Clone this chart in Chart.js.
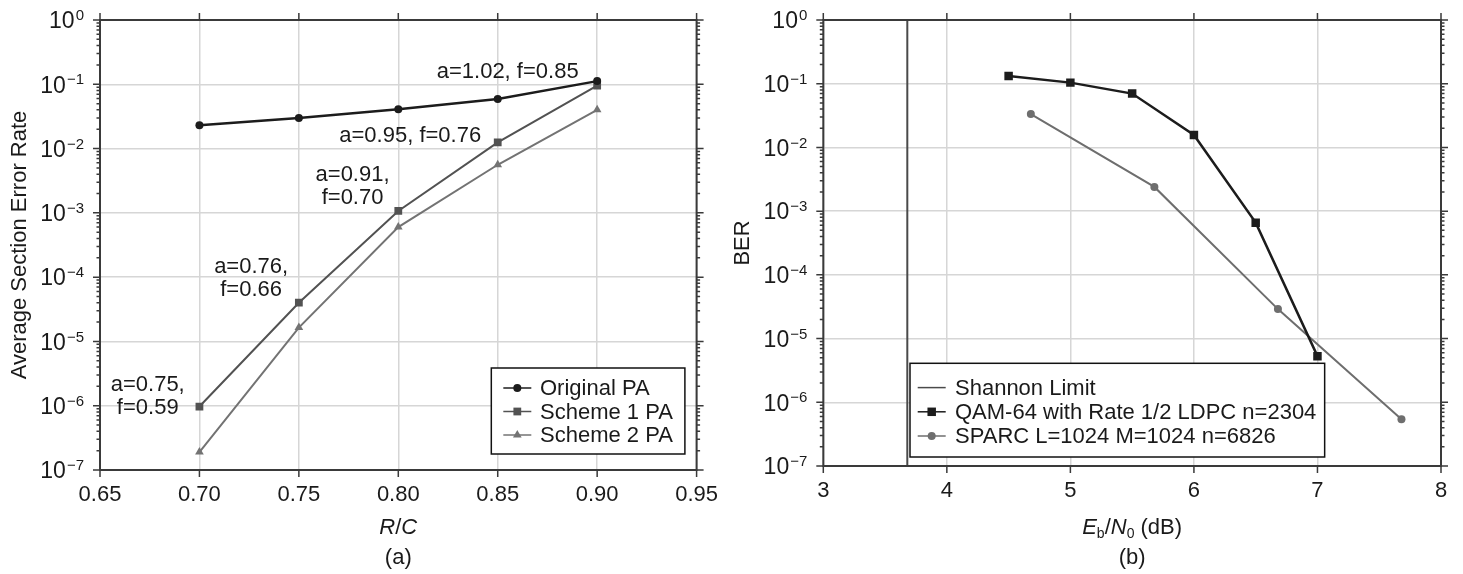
<!DOCTYPE html>
<html>
<head>
<meta charset="utf-8">
<script src="https://cdn.jsdelivr.net/npm/chart.js@4.4.0/dist/chart.umd.min.js"></script>
<style>
  body { margin: 0; background: #fff; }
  #wrap { position: relative; width: 1463px; height: 574px; }
  canvas { position: absolute; top: 0; }
</style>
</head>
<body>
<div id="wrap">
  <canvas id="chartA" width="730" height="574" style="left:0"></canvas>
  <canvas id="chartB" width="733" height="574" style="left:730px"></canvas>
</div>
<script>
// (a) average section error rate vs R/C
const rcValues = [0.70, 0.75, 0.80, 0.85, 0.90];
const originalPA = [0.023, 0.030, 0.041, 0.059, 0.112];
const scheme1PA = [9.7e-7, 4.0e-5, 1.07e-3, 0.0125, 0.095];
const scheme2PA = [1.9e-7, 1.64e-5, 6.0e-4, 0.0056, 0.040];
const rcTicks = [0.65, 0.70, 0.75, 0.80, 0.85, 0.90, 0.95];

// power allocation notes on (a), anchored in data coordinates
const noteLines = [['a=1.02, f=0.85'], ['a=0.95, f=0.76'], ['a=0.91,', 'f=0.70'], ['a=0.76,', 'f=0.66'], ['a=0.75,', 'f=0.59']];
const noteX = [0.855, 0.806, 0.777, 0.726, 0.674];
const noteY = [0.155, 0.0158, 2.57e-3, 9.4e-5, 1.4e-6];

// (b) BER vs Eb/N0
const qamEbN0 = [4.5, 5.0, 5.5, 6.0, 6.5, 7.0];
const qamBER = [0.132, 0.104, 0.070, 0.0157, 6.6e-4, 5.3e-6];
const sparcEbN0 = [4.68, 5.68, 6.68, 7.68];
const sparcBER = [0.0334, 2.4e-3, 2.9e-5, 5.4e-7];
const shannonLimit = 3.68;
const ebn0Ticks = [3, 4, 5, 6, 7, 8];

const decadeExps = [0, -1, -2, -3, -4, -5, -6, -7];

const FONT = '"Liberation Sans", Arial, Helvetica, sans-serif';
const INK = '#1a1a1a';
const GRID = '#d6d6d6';
const FRAME = '#3a3a3a';

const pts = (xs, ys) => xs.map((x, i) => ({ x, y: ys[i] }));

function drawMarker(ctx, style, x, y, r) {
    ctx.beginPath();
    if (style === 'rect') {
        const s = r * Math.SQRT1_2;
        ctx.rect(x - s, y - s, 2 * s, 2 * s);
    } else if (style === 'triangle') {
        ctx.moveTo(x, y - r);
        ctx.lineTo(x + r * 0.866, y + r / 2);
        ctx.lineTo(x - r * 0.866, y + r / 2);
        ctx.closePath();
    } else {
        ctx.arc(x, y, r, 0, Math.PI * 2);
    }
    ctx.fill();
}

// draws a row of text pieces (italic / subscript) centred on cx
function drawPieces(ctx, pieces, cx, cy) {
    const fontOf = p => `${p.it ? 'italic ' : ''}${p.sub ? 14 : 22}px ${FONT}`;
    let total = 0;
    pieces.forEach(p => { ctx.font = fontOf(p); p.w = ctx.measureText(p.t).width; total += p.w; });
    let x = cx - total / 2;
    ctx.textAlign = 'left';
    ctx.textBaseline = 'middle';
    pieces.forEach(p => {
        ctx.font = fontOf(p);
        ctx.fillText(p.t, x, cy + (p.sub ? 6 : 0));
        x += p.w;
    });
}

const decor = {
    id: 'decor',
    afterDraw(chart, args, o) {
        const { ctx, chartArea: a, scales: { x, y } } = chart;
        ctx.save();

        // tick marks, outside on all four sides
        ctx.strokeStyle = FRAME;
        ctx.lineWidth = 1.5;
        ctx.beginPath();
        x.ticks.forEach(t => {
            const px = x.getPixelForValue(t.value);
            ctx.moveTo(px, a.top); ctx.lineTo(px, a.top - 7);
            ctx.moveTo(px, a.bottom); ctx.lineTo(px, a.bottom + 7);
        });
        decadeExps.forEach(e => {
            const py = y.getPixelForValue(10 ** e);
            ctx.moveTo(a.left, py); ctx.lineTo(a.left - 7, py);
            ctx.moveTo(a.right, py); ctx.lineTo(a.right + 7, py);
            if (e === -7) return;
            for (let m = 2; m < 10; m++) {
                const pm = y.getPixelForValue(m * 10 ** (e - 1));
                ctx.moveTo(a.left, pm); ctx.lineTo(a.left - 3.5, pm);
                ctx.moveTo(a.right, pm); ctx.lineTo(a.right + 3.5, pm);
            }
        });
        ctx.stroke();

        // frame
        ctx.lineWidth = 2;
        ctx.strokeRect(a.left, a.top, a.right - a.left, a.bottom - a.top);

        // y tick labels 10^n
        ctx.fillStyle = INK;
        ctx.textBaseline = 'middle';
        ctx.textAlign = 'left';
        decadeExps.forEach(e => {
            const py = y.getPixelForValue(10 ** e);
            const sup = e === 0 ? '0' : '\u2212' + (-e);
            ctx.font = `23px ${FONT}`;
            const wb = ctx.measureText('10').width;
            ctx.font = `15px ${FONT}`;
            const ws = ctx.measureText(sup).width;
            const right = a.left - 16;
            ctx.font = `23px ${FONT}`;
            ctx.fillText('10', right - ws - wb - 1, py + 2);
            ctx.font = `15px ${FONT}`;
            ctx.fillText(sup, right - ws, py - 4);
        });

        // axis titles and caption
        const cx = (a.left + a.right) / 2;
        ctx.save();
        ctx.translate(a.left - 80, (a.top + a.bottom) / 2);
        ctx.rotate(-Math.PI / 2);
        ctx.textAlign = 'center';
        ctx.font = `22px ${FONT}`;
        ctx.fillText(o.yTitle, 0, 0);
        ctx.restore();
        drawPieces(ctx, o.xTitle, cx, 528);
        ctx.textAlign = 'center';
        ctx.font = `22px ${FONT}`;
        ctx.fillText(o.caption, cx, 558);

        // notes
        (o.notes || []).forEach(n => {
            const px = x.getPixelForValue(n.x);
            const py = y.getPixelForValue(n.y);
            const y0 = py - (n.lines.length - 1) * 23 / 2;
            n.lines.forEach((s, i) => ctx.fillText(s, px, y0 + i * 23));
        });

        // legend box
        const L = o.legend;
        const sets = chart.data.datasets;
        ctx.font = `22px ${FONT}`;
        const tw = Math.max(...sets.map(d => ctx.measureText(d.label).width));
        const w = L.textX + tw + L.padRight;
        const h = L.padTop + L.rowH * (sets.length - 1) + L.padBottom;
        const bx = L.alignRight ? a.right - L.dx - w : a.left + L.dx;
        const by = a.bottom - L.dy - h;
        ctx.fillStyle = '#fff';
        ctx.fillRect(bx, by, w, h);
        ctx.strokeStyle = '#111';
        ctx.lineWidth = 1.5;
        ctx.strokeRect(bx, by, w, h);
        sets.forEach((d, i) => {
            const ry = by + L.padTop + i * L.rowH;
            ctx.strokeStyle = d.borderColor;
            ctx.lineWidth = 1.5;
            ctx.beginPath();
            ctx.moveTo(bx + L.lineX0, ry); ctx.lineTo(bx + L.lineX1, ry);
            ctx.stroke();
            if (d.pointRadius > 0) {
                ctx.fillStyle = d.backgroundColor;
                drawMarker(ctx, d.pointStyle, bx + (L.lineX0 + L.lineX1) / 2, ry, d.pointRadius);
            }
            ctx.fillStyle = INK;
            ctx.textAlign = 'left';
            ctx.textBaseline = 'middle';
            ctx.fillText(d.label, bx + L.textX, ry + 1);
        });

        ctx.restore();
    }
};

function axisTicks(values, fmt) {
    return {
        padding: 12, color: INK, autoSkip: false, maxRotation: 0,
        font: { family: FONT, size: 22 },
        callback: v => fmt(v)
    };
}

function logAxis(width) {
    return {
        type: 'logarithmic', min: 1e-7, max: 1,
        afterBuildTicks: s => { s.ticks = decadeExps.map(e => ({ value: 10 ** e })); },
        afterFit: s => { s.width = width; },
        grid: { color: GRID, lineWidth: 1.5, drawTicks: false },
        border: { display: false },
        ticks: { callback: () => '' }
    };
}

new Chart(document.getElementById('chartA'), {
    type: 'line',
    data: {
        datasets: [
            { label: 'Original PA', data: pts(rcValues, originalPA), borderColor: '#1c1c1c', backgroundColor: '#1c1c1c',
              borderWidth: 2.5, pointStyle: 'circle', pointRadius: 4, pointBorderWidth: 0 },
            { label: 'Scheme 1 PA', data: pts(rcValues, scheme1PA), borderColor: '#525252', backgroundColor: '#525252',
              borderWidth: 2, pointStyle: 'rect', pointRadius: 5.5, pointBorderWidth: 0 },
            { label: 'Scheme 2 PA', data: pts(rcValues, scheme2PA), borderColor: '#737373', backgroundColor: '#737373',
              borderWidth: 2, pointStyle: 'triangle', pointRadius: 5, pointBorderWidth: 0 }
        ]
    },
    options: {
        responsive: false,
        animation: false,
        layout: { padding: { top: 20, right: 31, bottom: 0, left: 0 } },
        elements: { line: { tension: 0 } },
        plugins: {
            legend: { display: false },
            tooltip: { enabled: false },
            decor: {
                yTitle: 'Average Section Error Rate',
                xTitle: [{ t: 'R', it: true }, { t: '/' }, { t: 'C', it: true }],
                caption: '(a)',
                notes: noteLines.map((lines, i) => ({ lines, x: noteX[i], y: noteY[i] })),
                legend: { alignRight: true, dx: 11.7, dy: 16, padTop: 20, rowH: 23.5, padBottom: 19,
                          lineX0: 12, lineX1: 40, textX: 48.7, padRight: 12 }
            }
        },
        scales: {
            x: {
                type: 'linear', min: 0.65, max: 0.95,
                afterBuildTicks: s => { s.ticks = rcTicks.map(v => ({ value: v })); },
                afterFit: s => { s.height = 104; },
                grid: { color: GRID, lineWidth: 1.5, drawTicks: false },
                border: { display: false },
                ticks: axisTicks(rcTicks, v => v.toFixed(2))
            },
            y: logAxis(100)
        }
    },
    plugins: [decor]
});

new Chart(document.getElementById('chartB'), {
    type: 'line',
    data: {
        datasets: [
            { label: 'Shannon Limit', data: [{ x: shannonLimit, y: 1e-7 }, { x: shannonLimit, y: 1 }],
              borderColor: '#4a4a4a', backgroundColor: '#4a4a4a', borderWidth: 2, pointRadius: 0 },
            { label: 'QAM-64 with Rate 1/2 LDPC n=2304', data: pts(qamEbN0, qamBER), borderColor: '#1c1c1c', backgroundColor: '#1c1c1c',
              borderWidth: 2.5, pointStyle: 'rect', pointRadius: 6, pointBorderWidth: 0 },
            { label: 'SPARC L=1024 M=1024 n=6826', data: pts(sparcEbN0, sparcBER), borderColor: '#6e6e6e', backgroundColor: '#6e6e6e',
              borderWidth: 2, pointStyle: 'circle', pointRadius: 4, pointBorderWidth: 0 }
        ]
    },
    options: {
        responsive: false,
        animation: false,
        layout: { padding: { top: 20, right: 22, bottom: 0, left: 0 } },
        elements: { line: { tension: 0 } },
        plugins: {
            legend: { display: false },
            tooltip: { enabled: false },
            decor: {
                yTitle: 'BER',
                xTitle: [{ t: 'E', it: true }, { t: 'b', sub: true }, { t: '/' }, { t: 'N', it: true }, { t: '0', sub: true }, { t: ' (dB)' }],
                caption: '(b)',
                legend: { alignRight: false, dx: 86.7, dy: 9, padTop: 24.3, rowH: 24.2, padBottom: 21,
                          lineX0: 7.7, lineX1: 35.7, textX: 45, padRight: 8.3 }
            }
        },
        scales: {
            x: {
                type: 'linear', min: 3, max: 8,
                afterBuildTicks: s => { s.ticks = ebn0Ticks.map(v => ({ value: v })); },
                afterFit: s => { s.height = 108; },
                grid: { color: GRID, lineWidth: 1.5, drawTicks: false },
                border: { display: false },
                ticks: axisTicks(ebn0Ticks, v => String(v))
            },
            y: logAxis(93.3)
        }
    },
    plugins: [decor]
});
</script>
</body>
</html>
